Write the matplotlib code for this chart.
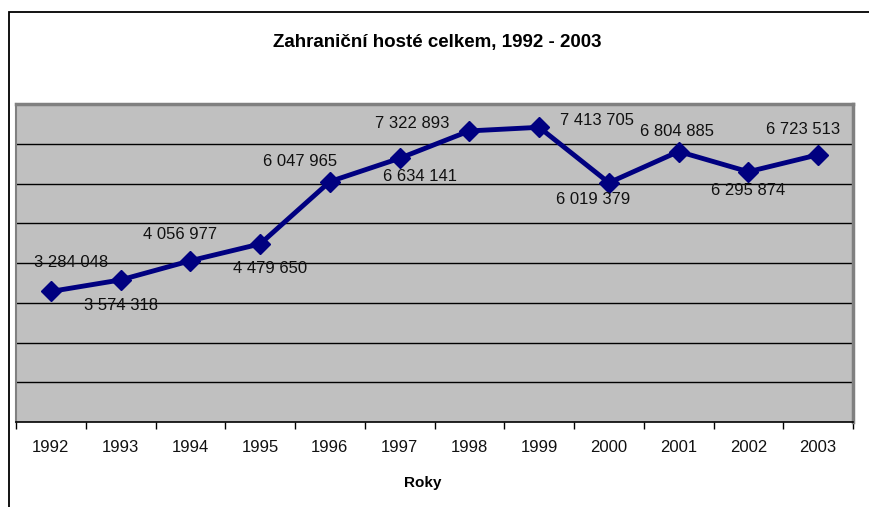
import matplotlib
matplotlib.use("Agg")
import matplotlib.pyplot as plt
from matplotlib.patches import Rectangle

years = ["1992", "1993", "1994", "1995", "1996", "1997", "1998", "1999", "2000", "2001", "2002", "2003"]
guests = [3284048, 3574318, 4056977, 4479650, 6047965, 6634141, 7322893, 7413705, 6019379, 6804885, 6295874, 6723513]
value_labels = ["3 284 048", "3 574 318", "4 056 977", "4 479 650", "6 047 965", "6 634 141",
                "7 322 893", "7 413 705", "6 019 379", "6 804 885", "6 295 874", "6 723 513"]
# label offsets in pixels (dx, dy) relative to point, dy positive = up
label_offsets = [(20, 29), (0, -26), (-10, 26), (10, -25), (-30, 20), (20, -18),
                 (-57, 7), (58, 7), (-16, -17), (-2, 20), (0, -19), (-15, 25)]

plt.rcParams['font.family'] = ['Liberation Sans', 'DejaVu Sans']

W, H = 869, 507
fig = plt.figure(figsize=(W / 100, H / 100), dpi=100)
fig.patch.set_facecolor('white')

# outer frame (left and top visible)
fig.patches.append(Rectangle((9 / W, -0.1), 1.2, (H - 12) / H + 0.1, transform=fig.transFigure,
                             fill=False, edgecolor='black', linewidth=1.3))

left, right, top, bottom = 16, 853, 104, 422
ax = fig.add_axes([left / W, (H - bottom) / H, (right - left) / W, (bottom - top) / H])
ax.set_facecolor('#C0C0C0')

x = list(range(len(years)))
ax.set_xlim(-0.5, len(years) - 0.5)
ax.set_ylim(0, 8000000)
ax.set_yticks([1e6 * i for i in range(1, 8)])
ax.tick_params(axis='y', left=False, labelleft=False)
ax.yaxis.grid(True, color='black', linewidth=1.0)
ax.set_axisbelow(True)

ax.set_xticks(x)
ax.set_xticklabels(years, fontsize=12, color='#111111')
ax.tick_params(axis='x', which='major', length=0, pad=13)
ax.set_xticks([i - 0.5 for i in range(len(years) + 1)], minor=True)
ax.tick_params(axis='x', which='minor', length=5, width=1, color='black')

for s in ['top', 'left', 'right']:
    ax.spines[s].set_color('#808080')
ax.spines['top'].set_linewidth(2.5)
ax.spines['left'].set_linewidth(1.5)
ax.spines['right'].set_linewidth(2.5)
ax.spines['bottom'].set_color('black')
ax.spines['bottom'].set_linewidth(1.2)

ax.plot(x, guests, color='#000080', linewidth=3.5, marker='D', markersize=10,
        markerfacecolor='#000080', markeredgecolor='#000080', clip_on=False, zorder=3)

for xi, yi, lab, (dx, dy) in zip(x, guests, value_labels, label_offsets):
    ax.annotate(lab, (xi, yi), xytext=(dx * 0.72, dy * 0.72), textcoords='offset points',
                ha='center', va='center', fontsize=12, color='#111111', zorder=4)

fig.text(437 / W, 1 - 42 / H, "Zahraniční hosté celkem, 1992 - 2003", ha='center', va='center',
         fontsize=13.5, fontweight='bold')
fig.text(423 / W, 1 - 483 / H, "Roky", ha='center', va='center', fontsize=11, fontweight='bold')

fig.savefig("out.png", dpi=100)
